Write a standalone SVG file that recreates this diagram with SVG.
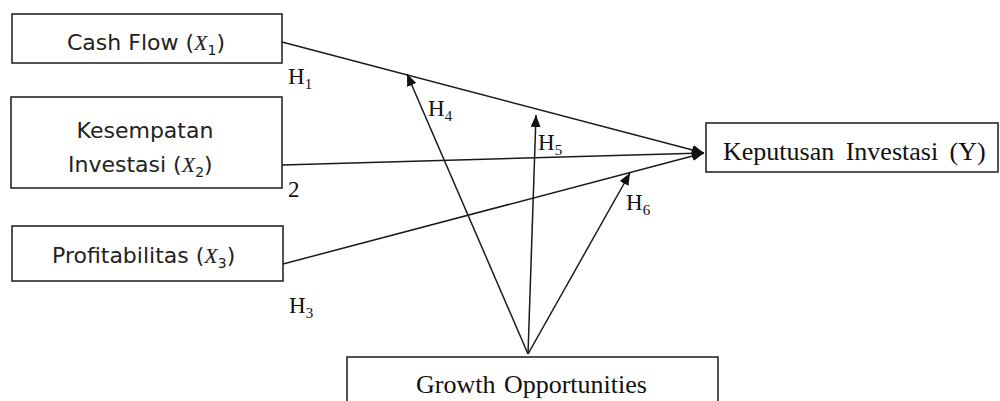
<svg xmlns="http://www.w3.org/2000/svg" width="1000" height="401" viewBox="0 0 1000 401">
  <defs>
    <marker id="arr" markerUnits="userSpaceOnUse" markerWidth="13" markerHeight="11" refX="12" refY="5" orient="auto">
      <path d="M0,0 L12,5 L0,10 Z" fill="#111"/>
    </marker>
    <style>
      .box { fill: #fff; stroke: #1a1a1a; stroke-width: 1.5; }
      .sans { font-family: "DejaVu Sans", "Liberation Sans", sans-serif; font-size: 22px; fill: #222; }
      .mx { font-family: "Liberation Serif", serif; font-style: italic; font-size: 22px; }
      .sub { font-family: "DejaVu Sans", sans-serif; font-size: 14px; }
      .serif { font-family: "Liberation Serif", serif; font-size: 26px; fill: #111; }
      .h { font-family: "Liberation Serif", serif; font-size: 23px; fill: #111; }
      .hs { font-size: 15px; }
      .ln { stroke: #1a1a1a; stroke-width: 1.5; fill: none; }
    </style>
  </defs>
  <rect width="1000" height="401" fill="#fff"/>

  <g id="connectors">
    <line class="ln" x1="282" y1="42" x2="704" y2="153" marker-end="url(#arr)"/>
    <line class="ln" x1="282" y1="165" x2="704" y2="153" marker-end="url(#arr)"/>
    <line class="ln" x1="283" y1="264" x2="704" y2="153" marker-end="url(#arr)"/>
    <line class="ln" x1="528" y1="354" x2="407" y2="74" marker-end="url(#arr)"/>
    <line class="ln" x1="528" y1="354" x2="536" y2="115" marker-end="url(#arr)"/>
    <line class="ln" x1="528" y1="354" x2="630" y2="173" marker-end="url(#arr)"/>
  </g>

  <g id="labels">
    <text class="h" x="288" y="84">H<tspan class="hs" dy="5">1</tspan></text>
    <text class="h" x="428" y="116">H<tspan class="hs" dy="5">4</tspan></text>
    <text class="h" x="538" y="150">H<tspan class="hs" dy="5">5</tspan></text>
    <text class="h" x="626" y="210">H<tspan class="hs" dy="5">6</tspan></text>
    <text class="h" x="288" y="197" font-size="20">2</text>
    <text class="h" x="289" y="313">H<tspan class="hs" dy="5">3</tspan></text>
  </g>

  <g id="cashflow">
    <rect class="box" x="12" y="14" width="270" height="49"/>
    <text class="sans" x="67" y="50">Cash Flow (<tspan class="mx">X</tspan><tspan class="sub" dy="5">1</tspan><tspan dy="-5">)</tspan></text>
  </g>

  <g id="kesempatan">
    <rect class="box" x="11" y="97" width="271" height="91"/>
    <text class="sans" x="145" y="138" text-anchor="middle">Kesempatan</text>
    <text class="sans" x="68" y="172">Investasi (<tspan class="mx">X</tspan><tspan class="sub" dy="5">2</tspan><tspan dy="-5">)</tspan></text>
  </g>

  <g id="profitabilitas">
    <rect class="box" x="12" y="226" width="271" height="55"/>
    <text class="sans" x="52" y="263">Profitabilitas (<tspan class="mx">X</tspan><tspan class="sub" dy="5">3</tspan><tspan dy="-5">)</tspan></text>
  </g>

  <g id="keputusan">
    <rect class="box" x="706" y="123" width="292" height="49"/>
    <text class="serif" x="723" y="160" word-spacing="5">Keputusan Investasi (Y)</text>
  </g>

  <g id="growth">
    <rect class="box" x="347" y="357" width="371" height="60"/>
    <text class="serif" x="416" y="393" word-spacing="2">Growth Opportunities</text>
  </g>
</svg>
